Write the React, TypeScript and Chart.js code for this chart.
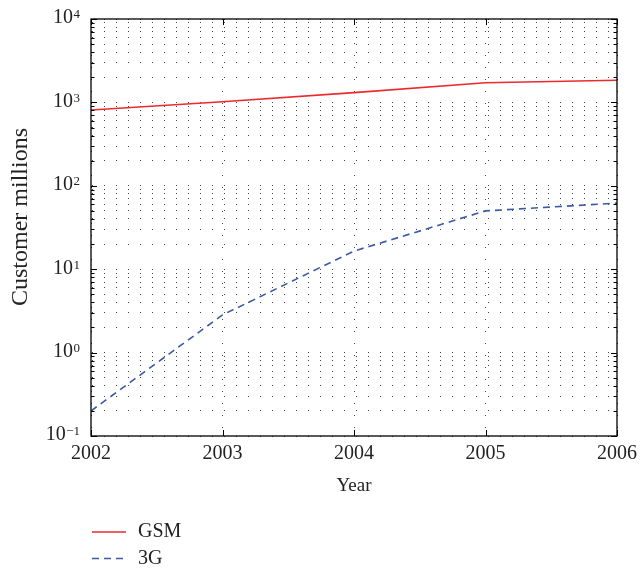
import React, { useEffect, useRef } from 'react';
import { Chart, registerables } from 'chart.js';

Chart.register(...registerables);

const years = [2002, 2003, 2004, 2005, 2006];
const gsmValues = [810, 1020, 1310, 1720, 1840];
const threeGValues = [0.2, 2.83, 16.5, 50, 62];
const seriesLabels = ['GSM', '3G'];
const xTickLabels = ['2002', '2003', '2004', '2005', '2006'];
const yDecades = [-1, 0, 1, 2, 3, 4];
const yMinorMultipliers = [1, 2, 3, 4, 5, 6, 7, 8, 9];
const xTitle = 'Year';
const yTitle = 'Customer millions';

const FONT = '"Liberation Serif", "Times New Roman", serif';
const TEXT = '#222';

const yTickValues: number[] = [];
yDecades.forEach((d, i) => {
  if (i === yDecades.length - 1) {
    yTickValues.push(Math.pow(10, d));
  } else {
    yMinorMultipliers.forEach((m) => {
      yTickValues.push(parseFloat((m * Math.pow(10, d)).toPrecision(12)));
    });
  }
});

const isDecade = (v: number) => {
  const l = Math.log10(v);
  return Math.abs(l - Math.round(l)) < 1e-9;
};

const framePlugin = {
  id: 'frameAndLabels',
  afterDraw(chart: any) {
    const { ctx, chartArea: a, scales } = chart;
    const xs = scales.x;
    const ys = scales.y;
    ctx.save();
    // inward tick marks
    ctx.strokeStyle = '#000';
    ctx.lineWidth = 1;
    ctx.setLineDash([]);
    ctx.beginPath();
    ys.ticks.forEach((t: any) => {
      const py = Math.round(ys.getPixelForValue(t.value)) + 0.5;
      const len = isDecade(t.value) ? 6 : 3.5;
      ctx.moveTo(a.left, py);
      ctx.lineTo(a.left + len, py);
      ctx.moveTo(a.right, py);
      ctx.lineTo(a.right - len, py);
    });
    xs.ticks.forEach((t: any) => {
      const px = Math.round(xs.getPixelForValue(t.value)) + 0.5;
      ctx.moveTo(px, a.bottom);
      ctx.lineTo(px, a.bottom - 6);
      ctx.moveTo(px, a.top);
      ctx.lineTo(px, a.top + 6);
    });
    ctx.stroke();
    // frame
    ctx.lineWidth = 1.3;
    ctx.strokeRect(a.left, a.top, a.right - a.left, a.bottom - a.top);

    // y tick labels with superscripts
    ctx.fillStyle = TEXT;
    ctx.textAlign = 'right';
    ctx.textBaseline = 'alphabetic';
    const labelRight = a.left - 11;
    ys.ticks.forEach((t: any) => {
      if (!isDecade(t.value)) return;
      const e = Math.round(Math.log10(t.value));
      const py = ys.getPixelForValue(t.value);
      const expStr = e < 0 ? '\u2212' + String(-e) : String(e);
      ctx.font = `13px ${FONT}`;
      const expW = ctx.measureText(expStr).width;
      ctx.fillText(expStr, labelRight, py - 0.7);
      ctx.font = `20px ${FONT}`;
      ctx.fillText('10', labelRight - expW - 0.5, py + 4.3);
    });

    // y axis title
    ctx.save();
    ctx.translate(20.5, 217);
    ctx.rotate(-Math.PI / 2);
    ctx.font = `24px ${FONT}`;
    ctx.textAlign = 'center';
    ctx.textBaseline = 'middle';
    ctx.fillStyle = TEXT;
    ctx.fillText(yTitle, 0, 0);
    ctx.restore();

    // legend
    const rows = [532, 558.5];
    chart.data.datasets.forEach((ds: any, i: number) => {
      const y = rows[i];
      ctx.strokeStyle = ds.borderColor;
      ctx.lineWidth = ds.borderWidth;
      ctx.setLineDash(ds.borderDash || []);
      ctx.beginPath();
      ctx.moveTo(92, y);
      ctx.lineTo(126, y);
      ctx.stroke();
      ctx.setLineDash([]);
      ctx.fillStyle = TEXT;
      ctx.font = `20px ${FONT}`;
      ctx.textAlign = 'left';
      ctx.textBaseline = 'middle';
      ctx.fillText(ds.label, 138, y);
    });
    ctx.restore();
  },
};

export default function App() {
  const ref = useRef<HTMLCanvasElement>(null);
  useEffect(() => {
    if (!ref.current) return;
    const chart = new Chart(ref.current, {
      type: 'line',
      data: {
        datasets: [
          {
            label: seriesLabels[0],
            data: years.map((x, i) => ({ x, y: gsmValues[i] })),
            borderColor: '#ec2a2e',
            borderWidth: 1.6,
            pointRadius: 0,
            tension: 0,
            fill: false,
          },
          {
            label: seriesLabels[1],
            data: years.map((x, i) => ({ x, y: threeGValues[i] })),
            borderColor: '#3b59a6',
            borderWidth: 1.6,
            borderDash: [7, 5],
            pointRadius: 0,
            tension: 0,
            fill: false,
          },
        ],
      } as any,
      options: {
        animation: false,
        responsive: false,
        layout: { padding: { top: 19, right: 22, left: 0, bottom: 0 } },
        plugins: { legend: { display: false }, tooltip: { enabled: false } },
        scales: {
          x: {
            type: 'linear',
            min: years[0],
            max: years[years.length - 1],
            afterBuildTicks: (s: any) => {
              s.ticks = years.map((v) => ({ value: v }));
            },
            ticks: {
              callback: (_v: any, index: number) => xTickLabels[index],
              font: { family: FONT, size: 20 },
              color: TEXT,
              padding: 6,
              maxRotation: 0,
              autoSkip: false,
            },
            grid: { color: '#444', lineWidth: 1, drawTicks: false },
            border: { display: false, dash: [1, 11], dashOffset: 0 },
            title: {
              display: true,
              text: xTitle,
              font: { family: FONT, size: 19 },
              color: TEXT,
              padding: { top: 0, bottom: 74 },
            },
            afterFit: (s: any) => {
              s.height = 135;
            },
          },
          y: {
            type: 'logarithmic',
            min: 0.1,
            max: 10000,
            afterBuildTicks: (s: any) => {
              s.ticks = yTickValues.map((v) => ({ value: v, major: isDecade(v) }));
            },
            ticks: { display: false },
            grid: { color: '#444', lineWidth: 1, drawTicks: false },
            border: { display: false, dash: [1, 11], dashOffset: 11 },
            title: { display: false },
            afterFit: (s: any) => {
              s.width = 91;
            },
          },
        },
      } as any,
      plugins: [framePlugin],
    });
    return () => chart.destroy();
  }, []);
  return (
    <div style={{ position: 'absolute', left: 0, top: 0, width: 643, height: 571, background: '#fff' }}>
      <canvas ref={ref} width={643} height={571} style={{ display: 'block' }} />
    </div>
  );
}
